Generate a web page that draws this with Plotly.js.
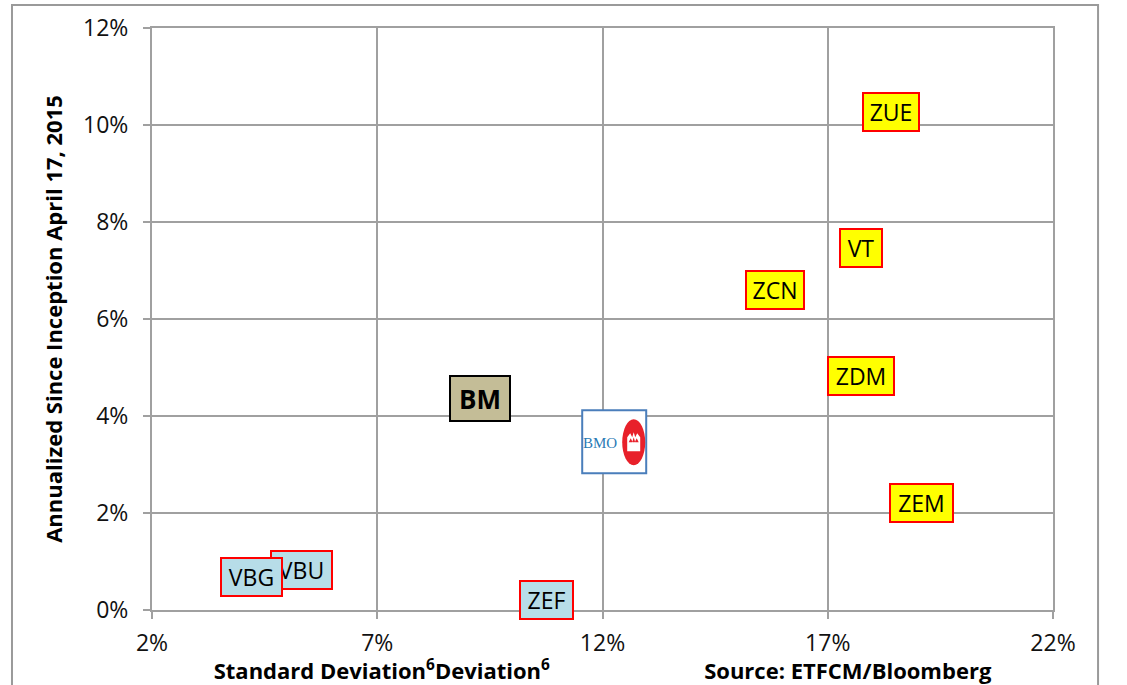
<!DOCTYPE html>
<html>
<head>
<meta charset="utf-8">
<script src="https://cdn.plot.ly/plotly-3.0.1.min.js"></script>
<style>html,body{margin:0;padding:0;background:#fff;}#chart{width:1127px;height:685px;}</style>
</head>
<body>
<div id="chart"></div>
<script>
// Data (percent)
const tickers   = ["VBU", "VBG", "ZEF", "BM", "BMO", "ZCN", "VT", "ZDM", "ZUE", "ZEM"];
const stdDev    = [5.31, 4.20, 10.75, 9.28, 12.26, 15.83, 17.74, 17.74, 18.40, 19.09];
const annReturn = [0.82, 0.68, 0.21, 4.37, 3.48, 6.60, 7.46, 4.82, 10.27, 2.21];
const groups    = ["bond", "bond", "bond", "bench", "bmo", "equity", "equity", "equity", "equity", "equity"];
const xTickVals = [2, 7, 12, 17, 22];
const xTickText = ["2%", "7%", "12%", "17%", "22%"];
const yTickVals = [0, 2, 4, 6, 8, 10, 12];
const yTickText = ["0%", "2%", "4%", "6%", "8%", "10%", "12%"];

const FONT = "'Open Sans', Lato, sans-serif";
const styles = {
  equity: {bg: "#ffff00", border: "#ff0000", size: 23, bold: false, h: 36},
  bond:   {bg: "#b7dde8", border: "#ff0000", size: 23, bold: false, h: 36},
  bench:  {bg: "#c4bd97", border: "#000000", size: 26, bold: true,  h: 43},
  bmo:    {bg: "#ffffff", border: "#4a7ebb", size: 15, bold: false, h: 59}
};
const widths = {VBU: 59, VBG: 59, ZEF: 51, BM: 58, BMO: 60, ZCN: 56, VT: 40, ZDM: 64, ZUE: 54, ZEM: 61};

const annotations = [];
const shapes = [];
tickers.forEach((t, i) => {
  const s = styles[groups[i]];
  if (groups[i] === "bmo") {
    const base = {xref: "x", yref: "y", xsizemode: "pixel", ysizemode: "pixel",
                  xanchor: stdDev[i], yanchor: annReturn[i], layer: "above"};
    shapes.push(Object.assign({}, base, {type: "rect", x0: -32, x1: 32, y0: -32, y1: 31,
      fillcolor: s.bg, line: {color: s.border, width: 2}}));
    shapes.push(Object.assign({}, base, {type: "circle", x0: 8, x1: 31, y0: -24, y1: 22,
      fillcolor: "#e8202a", line: {width: 0}}));
    shapes.push(Object.assign({}, base, {type: "path",
      path: "M 13 -10 L 13 4 L 16 8 L 18 4 L 19.5 9 L 21 4 L 23 8 L 26 4 L 26 -10 Z",
      fillcolor: "#ffffff", line: {width: 0}}));
    shapes.push(Object.assign({}, base, {type: "path",
      path: "M 14.5 -1 L 16.5 3 L 18.5 -1 Z M 18 -1 L 19.5 4 L 21 -1 Z M 20.5 -1 L 22.5 3 L 24.5 -1 Z",
      fillcolor: "#e8202a", line: {width: 0}}));
    annotations.push({
      x: stdDev[i], y: annReturn[i], xref: "x", yref: "y", xshift: -14, yshift: -2,
      text: t, showarrow: false,
      font: {family: "'Liberation Serif', 'DejaVu Serif', serif", size: s.size, color: "#2a7ab5"}
    });
  } else {
    annotations.push({
      x: stdDev[i], y: annReturn[i], xref: "x", yref: "y",
      text: s.bold ? "<b>" + t + "</b>" : t,
      showarrow: false, bgcolor: s.bg, bordercolor: s.border, borderwidth: 2,
      borderpad: 0, width: widths[t], height: s.h,
      font: {family: FONT, size: s.size, color: "#000"}
    });
  }
});

// outer chart frame
shapes.push({type: "rect", xref: "paper", yref: "paper", x0: -0.1554, x1: 1.05, y0: -0.3, y1: 1.0395,
  line: {color: "#9a9a9a", width: 2}, fillcolor: "rgba(0,0,0,0)", layer: "below"});

const nb = "&nbsp;".repeat(27);
const trace = {
  x: stdDev, y: annReturn, text: tickers, mode: "markers", type: "scatter",
  marker: {size: 1, opacity: 0}, hoverinfo: "text", showlegend: false, cliponaxis: false
};

const layout = {
  width: 1127, height: 685,
  margin: {l: 152, r: 74, t: 28, b: 75},
  paper_bgcolor: "#fff", plot_bgcolor: "#fff",
  font: {family: FONT, color: "#000"},
  showlegend: false,
  xaxis: {
    range: [2, 22], tickvals: xTickVals, ticktext: xTickText,
    showgrid: true, gridcolor: "#a0a0a0", gridwidth: 2,
    showline: true, linecolor: "#a0a0a0", linewidth: 2, mirror: true,
    ticks: "outside", ticklen: 7, tickcolor: "#a0a0a0", tickwidth: 2,
    tickfont: {family: FONT, size: 23, color: "#111"}, ticklabelstandoff: 4,
    zeroline: false, fixedrange: true,
    title: {text: "<b>Standard Deviation<sup>6</sup>Deviation<sup>6</sup>" + nb + "Source: ETFCM/Bloomberg</b>",
            font: {family: FONT, size: 22, color: "#000"}, standoff: 8}
  },
  yaxis: {
    range: [0, 12], tickvals: yTickVals, ticktext: yTickText,
    showgrid: true, gridcolor: "#a0a0a0", gridwidth: 2,
    showline: true, linecolor: "#a0a0a0", linewidth: 2, mirror: true,
    ticks: "outside", ticklen: 7, tickcolor: "#a0a0a0", tickwidth: 2,
    tickfont: {family: FONT, size: 23, color: "#111"}, ticklabelstandoff: 10,
    zeroline: false, fixedrange: true,
    title: {text: "<b>Annualized Since Inception April 17, 2015</b>",
            font: {family: FONT, size: 22, color: "#000"}, standoff: 14}
  },
  annotations: annotations,
  shapes: shapes
};

Plotly.newPlot("chart", [trace], layout, {displayModeBar: false, staticPlot: true});
</script>
</body>
</html>
